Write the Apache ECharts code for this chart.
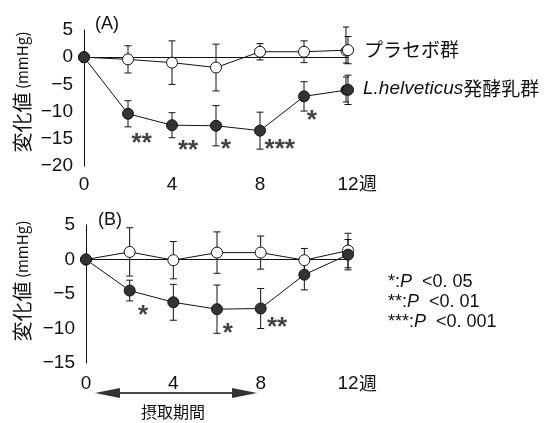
<!DOCTYPE html>
<html>
<head>
<meta charset="utf-8">
<script src="https://cdn.jsdelivr.net/npm/echarts@6/dist/echarts.min.js"></script>
<style>
    html, body {margin: 0; padding: 0; background: #fff;}
    #chart {width: 547px; height: 423px;}
</style>
</head>
<body>
<div id="chart"></div>
<script>
// 週
const weeks = [0, 2, 4, 6, 8, 10, 12]
const xTicks = [0, 4, 8, 12]

// (A)
const placeboA = [0, -0.4, -1.0, -1.9, 1.0, 1.0, 1.3]
const placeboAErr = [0, 2.5, 4.0, 4.3, 1.5, 2.0, 2.5]
const lhA = [0, -10.4, -12.5, -12.6, -13.5, -7.2, -6.0]
const lhAErr = [0, 2.4, 2.3, 3.7, 3.4, 2.7, 2.7]
const starsA = [[2.62, -14.6, '**'], [4.73, -16.0, '**'], [6.45, -15.8, '*'], [8.9, -15.7, '***'], [10.35, -10.4, '*']]

// (B)
const placeboB = [0, 1.1, -0.1, 1.0, 1.0, -0.1, 1.3]
const placeboBErr = [0, 3.5, 2.7, 3.0, 2.4, 1.7, 2.5]
const lhB = [0, -4.5, -6.2, -7.2, -7.1, -2.2, 0.7]
const lhBErr = [0, 1.5, 2.6, 3.5, 2.9, 2.2, 2.2]
const starsB = [[2.61, -7.2, '*'], [6.5, -9.7, '*'], [8.75, -8.9, '**']]

const pNotes = ['*:{i|P}  <0. 05', '**:{i|P}  <0. 01', '***:{i|P}  <0. 001']

const myChart = echarts.init(document.getElementById('chart'))
const ink = '#111'
const jp = '"Noto Sans CJK JP", sans-serif'
const latin = '"Liberation Sans", Arial, sans-serif'
const narrow = '"Liberation Sans Narrow", "Liberation Sans", sans-serif'

// 誤差範囲 [x, 下限, 上限]
const errData = (vals, errs) => weeks
    .map((w, i) => [w, vals[i] - errs[i], vals[i] + errs[i]])
    .filter((d, i) => errs[i] > 0)

const renderErr = (params, api) => {
    const x = api.value(0)
    const top = api.coord([x, api.value(2)])
    const bot = api.coord([x, api.value(1)])
    const w = 3.5
    const style = {stroke: ink, lineWidth: 1}
    return {
        type: 'group',
        children: [
            {type: 'line', shape: {x1: top[0], y1: top[1], x2: bot[0], y2: bot[1]}, style},
            {type: 'line', shape: {x1: top[0] - w, y1: top[1], x2: top[0] + w, y2: top[1]}, style},
            {type: 'line', shape: {x1: bot[0] - w, y1: bot[1], x2: bot[0] + w, y2: bot[1]}, style}
        ]
    }
}

const makeX = (gridIndex, margin) => ({
    type: 'value',
    gridIndex: gridIndex,
    min: 0,
    max: 12,
    interval: 4,
    axisLine: {lineStyle: {color: ink, width: 1}},
    axisTick: {show: false},
    splitLine: {show: false},
    axisLabel: {
        color: ink, fontSize: 19, fontFamily: narrow, margin: margin,
        formatter: v => xTicks.includes(v) ? String(v) : ''
    }
})

const makeY = (gridIndex, min) => ({
    type: 'value',
    gridIndex: gridIndex,
    min: min,
    max: 5,
    interval: 5,
    axisLine: {show: true, lineStyle: {color: ink, width: 1}},
    axisTick: {show: false},
    splitLine: {show: false},
    axisLabel: {
        color: ink, fontSize: 19, fontFamily: narrow, margin: 11,
        padding: [6, 0, 0, 0],
        formatter: v => String(v).replace('-', '−')
    }
})

const lineSeries = (idx, data, filled) => ({
    type: 'line',
    xAxisIndex: idx,
    yAxisIndex: idx,
    data: weeks.map((w, i) => [w, data[i]]),
    symbol: 'circle',
    symbolSize: 11,
    clip: false,
    z: 4,
    lineStyle: {color: ink, width: 1},
    itemStyle: {color: filled ? '#333' : '#fff', borderColor: ink, borderWidth: 1},
    animation: false
})

const errSeries = (idx, vals, errs) => ({
    type: 'custom',
    xAxisIndex: idx,
    yAxisIndex: idx,
    renderItem: renderErr,
    clip: false,
    data: errData(vals, errs),
    z: 2,
    animation: false
})

const starSeries = (idx, stars) => ({
    type: 'scatter',
    xAxisIndex: idx,
    yAxisIndex: idx,
    symbolSize: 0,
    data: stars.map(s => ({value: [s[0], s[1]], text: s[2]})),
    label: {
        show: true,
        position: 'inside',
        formatter: p => p.data.text,
        fontSize: 26,
        fontWeight: 'bold',
        fontFamily: latin,
        color: ink,
        offset: [0, 7]
    },
    silent: true,
    animation: false
})

const yName = (cy) => ({
    type: 'text', x: 22, y: cy, rotation: Math.PI / 2,
    style: {
        text: '{a|変化値}{b| (mmHg)}',
        align: 'center', verticalAlign: 'middle',
        rich: {
            a: {fontSize: 20, fontFamily: jp, fill: ink},
            b: {fontSize: 15, fontFamily: jp, fill: ink}
        }
    }
})

const option = {
    animation: false,
    grid: [
        {left: 84, top: 30, width: 264, height: 136},
        {left: 86, top: 225, width: 262, height: 138}
    ],
    xAxis: [makeX(0, 9), makeX(1, 11)],
    yAxis: [makeY(0, -20), makeY(1, -15)],
    series: [
        errSeries(0, placeboA, placeboAErr),
        errSeries(0, lhA, lhAErr),
        lineSeries(0, placeboA, false),
        lineSeries(0, lhA, true),
        starSeries(0, starsA),
        errSeries(1, placeboB, placeboBErr),
        errSeries(1, lhB, lhBErr),
        lineSeries(1, placeboB, false),
        lineSeries(1, lhB, true),
        starSeries(1, starsB)
    ],
    graphic: [
        yName(92),
        yName(281),
        {type: 'text', left: 95, top: 15, style: {text: '(A)', fontSize: 18, fontFamily: latin, fill: ink}},
        {type: 'text', left: 98, top: 211, style: {text: '(B)', fontSize: 18, fontFamily: latin, fill: ink}},
        {type: 'text', left: 359, top: 174, style: {text: '週', fontSize: 18, fontFamily: jp, fill: ink}},
        {type: 'text', left: 359, top: 374, style: {text: '週', fontSize: 18, fontFamily: jp, fill: ink}},
        // 凡例
        {type: 'line', shape: {x1: 346, y1: 27, x2: 346, y2: 63}, style: {stroke: ink, lineWidth: 1}},
        {type: 'line', shape: {x1: 343, y1: 27, x2: 349, y2: 27}, style: {stroke: ink, lineWidth: 1}},
        {type: 'line', shape: {x1: 343, y1: 63, x2: 349, y2: 63}, style: {stroke: ink, lineWidth: 1}},
        {type: 'circle', shape: {cx: 346, cy: 51, r: 5}, style: {fill: '#fff', stroke: ink, lineWidth: 1}},
        {type: 'text', left: 364, top: 40, style: {text: 'プラセボ群', fontSize: 19, fontFamily: jp, fill: ink}},
        {type: 'line', shape: {x1: 346, y1: 77, x2: 346, y2: 102}, style: {stroke: ink, lineWidth: 1}},
        {type: 'line', shape: {x1: 343, y1: 77, x2: 349, y2: 77}, style: {stroke: ink, lineWidth: 1}},
        {type: 'line', shape: {x1: 343, y1: 102, x2: 349, y2: 102}, style: {stroke: ink, lineWidth: 1}},
        {type: 'circle', shape: {cx: 346, cy: 90, r: 5}, style: {fill: '#333', stroke: ink, lineWidth: 1}},
        {
            type: 'text', left: 363, top: 79,
            style: {
                text: '{i|L.helveticus}{n|発酵乳群}',
                rich: {
                    i: {fontSize: 19, fontStyle: 'italic', fontFamily: latin, fill: ink},
                    n: {fontSize: 19, fontFamily: jp, fill: ink}
                }
            }
        },
        // 有意差
        ...pNotes.map((t, i) => ({
            type: 'text', left: 388, top: 273 + i * 20,
            style: {
                text: t,
                rich: {
                    i: {fontSize: 18, fontStyle: 'italic', fontFamily: latin, fill: ink}
                },
                fontSize: 18, fontFamily: latin, fill: ink
            }
        })),
        // 摂取期間
        {type: 'line', shape: {x1: 110, y1: 393, x2: 240, y2: 393}, style: {stroke: ink, lineWidth: 1.5}},
        {type: 'polygon', shape: {points: [[95, 393], [120, 388], [120, 398]]}, style: {fill: '#333'}},
        {type: 'polygon', shape: {points: [[257, 393], [232, 388], [232, 398]]}, style: {fill: '#333'}},
        {type: 'text', left: 141, top: 404, style: {text: '摂取期間', fontSize: 16, fontFamily: jp, fill: ink}}
    ]
}

option && myChart.setOption(option)
</script>
</body>
</html>
